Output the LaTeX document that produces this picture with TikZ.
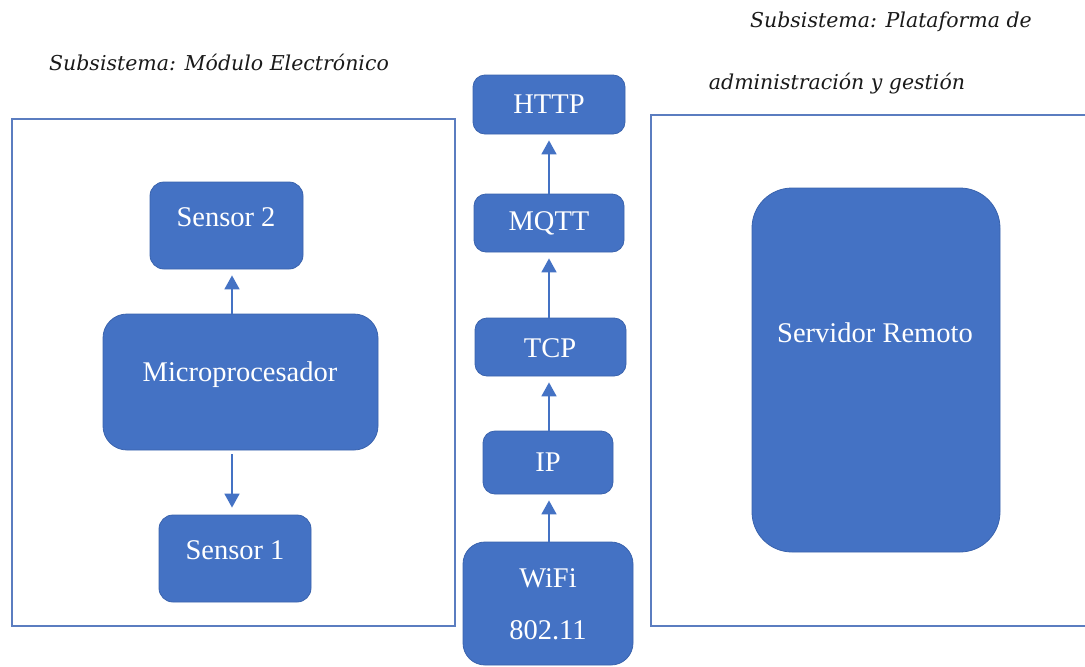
\documentclass[tikz,border=0pt]{standalone}
\usepackage{fontspec}
\setmainfont{Liberation Serif}
\newfontfamily\titlefont{DejaVu Serif}
\usetikzlibrary{arrows.meta}
\definecolor{blockfill}{HTML}{4472C4}
\definecolor{blockedge}{HTML}{3A63AD}
\definecolor{framecol}{HTML}{5B7DC0}
\definecolor{titlecol}{HTML}{1A1A1A}
\tikzset{
  block/.style={rectangle, rounded corners=#1, fill=blockfill, draw=blockedge,
    line width=0.8pt, inner sep=0pt},
  block/.default=14pt,
  lbl/.style={text=white, inner sep=0pt, font=\fontsize{28.5}{32}\selectfont},
  ttl/.style={text=titlecol, inner sep=0pt, font=\titlefont\itshape\fontsize{20.5}{24}\selectfont},
  frame/.style={draw=framecol, line width=1.6pt},
  arr/.style={draw=blockfill, line width=1.8pt,
    -{Triangle[length=14pt,width=15pt]}, shorten >=6pt},
}
\begin{document}
\begin{tikzpicture}[x=1pt,y=-1pt]
\useasboundingbox (0,0) rectangle (1085,667);

% subsystem frames
\draw[frame] (12,119) rectangle (455,626);
\draw[frame] (1086,115) -- (651,115) -- (651,626) -- (1086,626);

% titles
\node[ttl] (t1) at (219,62) {Subsistema: Módulo Electrónico};
\node[ttl] (t2) at (891,22) {Subsistema: Plataforma de};
\node[ttl] (t3) at (837,84) {administración y gestión};

% electronic module
\node[block, minimum width=153pt, minimum height=87pt] (s2) at (226.5,225.5) {};
\node[block=24pt, minimum width=275pt, minimum height=136pt] (mc) at (240.5,382) {};
\node[block, minimum width=152pt, minimum height=87pt] (s1) at (235,558.5) {};
\node[lbl] (s2t) at (226,217) {Sensor 2};
\node[lbl] (mct) at (240,375) {Microprocesador};
\node[lbl] (s1t) at (235,550) {Sensor 1};

% protocol stack
\node[block=12pt, minimum width=152pt, minimum height=59pt] (http) at (549,104.5) {};
\node[block=12pt, minimum width=150pt, minimum height=58pt] (mqtt) at (549,223) {};
\node[block=12pt, minimum width=151pt, minimum height=58pt] (tcp) at (550.5,347) {};
\node[block=12pt, minimum width=130pt, minimum height=63pt] (ip) at (548,462.5) {};
\node[block=22pt, minimum width=170pt, minimum height=123pt] (wifi) at (548,603.5) {};
\node[lbl] (httpt) at (549,104) {HTTP};
\node[lbl] (mqttt) at (549,223) {MQTT};
\node[lbl] (tcpt) at (550,348) {TCP};
\node[lbl] (ipt) at (548,462) {IP};
\node[lbl] (wifit) at (548,578) {WiFi};
\node[lbl] (wifin) at (548,630) {802.11};

% remote server
\node[block=40pt, minimum width=248pt, minimum height=364pt] (srv) at (876,370) {};
\node[lbl] (srvt) at (875,333) {Servidor Remoto};

% connectors
\coordinate (xl) at (232,0);
\coordinate (xc) at (549,0);
\draw[arr] (mc.north -| xl) -- (s2.south -| xl);
\draw[arr, shorten <=4pt, shorten >=7pt] (mc.south -| xl) -- (s1.north -| xl);
\draw[arr] (wifi.north -| xc) -- (ip.south -| xc);
\draw[arr] (ip.north -| xc) -- (tcp.south -| xc);
\draw[arr] (tcp.north -| xc) -- (mqtt.south -| xc);
\draw[arr] (mqtt.north -| xc) -- (http.south -| xc);
\end{tikzpicture}
\end{document}
